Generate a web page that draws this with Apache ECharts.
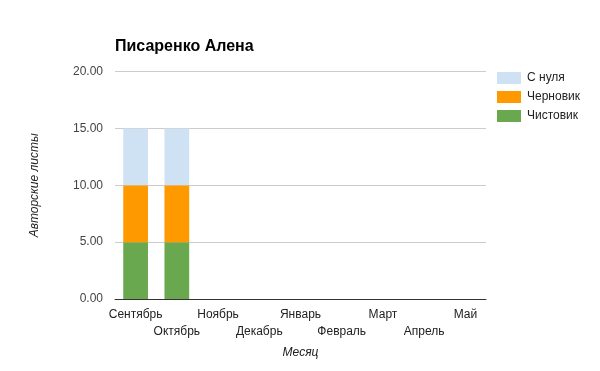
<!DOCTYPE html>
<html>
<head>
<meta charset="utf-8">
<script src="https://cdn.jsdelivr.net/npm/echarts@6/dist/echarts.min.js"></script>
<style>html,body{margin:0;padding:0;background:#fff}#c{width:600px;height:371px}</style>
</head>
<body>
<div id="c"></div>
<script>
var months = ['Сентябрь','Октябрь','Ноябрь','Декабрь','Январь','Февраль','Март','Апрель','Май'];
var chistovik = [5, 5, 0, 0, 0, 0, 0, 0, 0];
var chernovik = [5, 5, 0, 0, 0, 0, 0, 0, 0];
var sNulya = [5, 5, 0, 0, 0, 0, 0, 0, 0];
var yTicks = [0, 5, 10, 15, 20];

var font = 'Arial, "Liberation Sans", sans-serif';
var chart = echarts.init(document.getElementById('c'));
chart.setOption({
  animation: false,
  textStyle: {fontFamily: font},
  title: {
    text: 'Писаренко Алена', left: 110, top: 34,
    textStyle: {fontFamily: font, fontSize: 16, fontWeight: 'bold', color: '#000'}
  },
  legend: {
    orient: 'vertical', left: 492, top: 67,
    data: ['С нуля', 'Черновик', 'Чистовик'],
    icon: 'rect', itemWidth: 24, itemHeight: 12, itemGap: 7,
    textStyle: {fontFamily: font, fontSize: 12, color: '#222', padding: [0, 0, 0, 1]}
  },
  grid: {left: 115, right: 114, top: 71.5, bottom: 72, containLabel: false},
  xAxis: {
    type: 'category', data: months,
    axisLine: {lineStyle: {color: '#333'}},
    axisTick: {show: false},
    axisLabel: {
      interval: 0, color: '#222', fontSize: 12, fontFamily: font, margin: 7, lineHeight: 17,
      formatter: function (v, i) { return i % 2 ? '\n' + v : v; }
    },
    name: 'Месяц', nameLocation: 'middle', nameGap: 48,
    nameTextStyle: {fontStyle: 'italic', fontSize: 12, color: '#222', fontFamily: font}
  },
  yAxis: {
    type: 'value', min: yTicks[0], max: yTicks[yTicks.length - 1], interval: 5,
    axisLine: {show: false}, axisTick: {show: false},
    splitLine: {lineStyle: {color: '#ccc'}},
    axisLabel: {color: '#444', fontSize: 12, fontFamily: font, margin: 12,
      formatter: function (v) { return v.toFixed(2); }},
    name: 'Авторские листы', nameLocation: 'middle', nameGap: 74,
    nameTextStyle: {fontStyle: 'italic', fontSize: 12, color: '#222', fontFamily: font}
  },
  series: [
    {name: 'Чистовик', type: 'bar', stack: 'a', data: chistovik, barWidth: '60%', itemStyle: {color: '#6aa84f'}},
    {name: 'Черновик', type: 'bar', stack: 'a', data: chernovik, barWidth: '60%', itemStyle: {color: '#ff9900'}},
    {name: 'С нуля', type: 'bar', stack: 'a', data: sNulya, barWidth: '60%', itemStyle: {color: '#cfe2f3'}}
  ]
});
</script>
</body>
</html>
